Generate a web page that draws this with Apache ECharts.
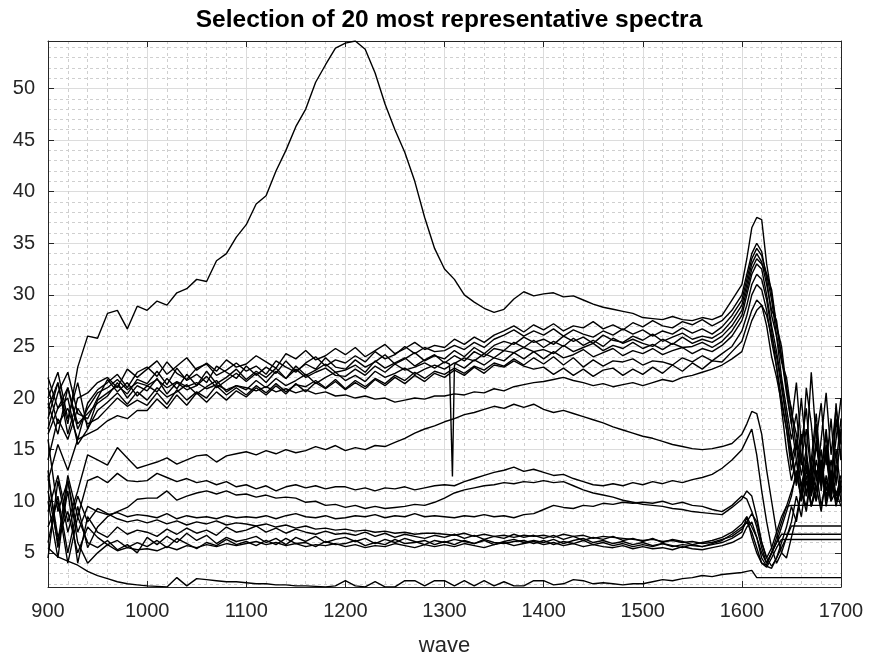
<!DOCTYPE html>
<html><head><meta charset="utf-8">
<script src="https://cdn.jsdelivr.net/npm/echarts@6/dist/echarts.min.js"></script>
<style>html,body{margin:0;padding:0;background:#fff}#c{width:869px;height:662px}</style>
</head><body><div id="c"></div>
<script>
const chartTitle = 'Selection of 20 most representative spectra';
const xName = 'wave';
const waves = [900,910,920,930,940,950,960,970,980,990,
1000,1010,1020,1030,1040,1050,1060,1070,1080,1090,
1100,1110,1120,1130,1140,1150,1160,1170,1180,1190,
1200,1210,1220,1230,1240,1250,1260,1270,1280,1290,
1300,1310,1320,1330,1340,1350,1360,1370,1380,1390,
1400,1410,1420,1430,1440,1450,1460,1470,1480,1490,
1500,1510,1520,1530,1540,1550,1560,1570,1580,1590,
1600,1605,1610,1615,1620,1625,1630,1635,1640,1645,1650,1655,1660,1665,1670,1675,1680,1685,1690,1695,1700];
const yMajorTicks = [5,10,15,20,25,30,35,40,45,50];
const yMinorTicks = [2,3,4,6,7,8,9,11,12,13,14,16,17,18,19,21,22,23,24,26,27,28,29,31,32,33,34,36,37,38,39,41,42,43,44,46,47,48,49,51,52,53,54];

const s01 = [19.0,21.5,17.5,23.0,26.0,25.8,28.2,28.5,26.7,28.9,
28.5,29.4,29.0,30.2,30.6,31.5,31.3,33.3,34.0,35.6,
36.8,38.8,39.6,42.0,44.0,46.3,48.0,50.6,52.3,53.9,
54.4,54.6,53.8,51.5,48.5,46.0,43.8,41.0,37.5,34.5,
32.5,31.5,30.0,29.3,28.7,28.3,28.6,29.6,30.3,29.9,
30.1,30.2,29.8,29.9,29.5,29.1,28.8,28.6,28.4,28.2,
27.8,27.7,27.6,27.9,27.6,27.5,27.8,27.6,28.0,29.5,
31.0,33.5,36.5,37.5,37.3,33.0,30.0,27.0,24.0,21.0,17.5,14.0,11.5,14.0,10.5,13.0,9.5,12.0,10.0,15.0,11.0];
const s02 = [18.0,21.5,16.5,20.0,20.5,21.5,22.0,21.0,22.8,22.0,
22.8,23.6,22.3,23.1,23.9,22.7,23.4,22.6,23.7,23.0,
23.3,24.1,23.5,22.9,24.3,23.8,24.6,23.7,24.1,24.8,
24.2,24.9,24.0,24.6,25.2,24.3,24.8,25.4,24.7,25.1,
24.9,25.7,25.2,25.9,25.4,26.1,26.5,27.0,26.4,27.1,
26.6,27.2,26.5,27.0,26.8,27.4,26.7,27.1,26.6,27.3,
26.9,27.5,27.0,26.8,27.4,27.1,27.6,27.0,27.5,28.5,
30.0,32.0,34.0,35.0,34.2,31.5,28.0,26.0,22.0,19.0,16.0,18.5,14.0,17.0,12.5,15.5,13.0,17.0,12.0,16.0,20.0];
const s03 = [21.0,17.5,19.0,16.0,19.5,20.8,21.5,22.3,21.0,22.5,
23.0,22.1,23.5,22.4,21.8,22.9,23.3,22.2,22.7,23.4,
22.6,23.1,22.3,23.6,23.0,22.5,23.4,24.0,23.1,23.7,
23.4,24.1,23.5,24.5,23.8,24.2,25.0,24.3,24.9,24.5,
24.6,25.1,24.7,25.4,24.9,25.7,26.1,26.6,26.0,26.5,
26.1,26.7,26.0,26.6,26.2,25.9,26.5,26.1,26.7,26.2,
26.6,26.0,26.5,26.2,26.8,26.3,26.7,26.2,26.9,28.0,
29.5,31.5,33.5,34.5,33.8,32.0,30.5,27.0,25.0,21.0,19.0,15.0,20.0,14.5,22.5,16.0,19.5,13.5,18.0,11.5,17.0];
const s04 = [20.0,22.5,18.0,21.5,17.0,19.8,20.5,21.2,20.4,21.8,
21.4,22.6,21.3,22.9,21.7,22.3,21.5,23.1,22.5,21.9,
23.1,22.2,23.0,22.4,23.6,22.6,23.3,22.8,23.9,23.0,
22.8,23.7,23.0,23.5,24.2,23.3,23.8,24.4,23.6,24.1,
23.8,24.6,24.0,24.9,24.3,25.1,25.5,25.2,25.9,25.4,
25.7,25.2,26.0,25.5,25.9,25.3,26.1,25.6,25.4,26.0,
25.6,26.2,25.5,25.9,26.3,25.7,26.0,25.8,26.4,27.5,
29.0,31.0,33.0,34.0,33.2,31.0,28.5,27.5,24.0,20.5,17.5,21.5,15.5,19.0,13.0,17.5,11.0,15.0,10.5,13.5,18.0];
const s05 = [17.0,20.5,22.5,18.5,18.0,20.0,21.8,20.6,21.5,20.2,
21.2,20.6,21.9,20.9,22.3,21.2,22.6,21.4,22.0,22.8,
21.8,22.6,22.0,22.9,21.9,23.1,22.2,22.7,23.3,22.5,
22.7,23.2,22.5,23.6,22.9,23.4,23.9,23.1,23.7,24.2,
23.4,24.1,23.6,24.5,24.0,24.8,24.6,25.4,24.9,25.6,
24.9,25.5,25.0,25.8,25.1,25.6,25.0,25.8,25.3,25.7,
25.3,25.0,25.7,25.2,25.9,25.3,25.7,25.4,26.0,27.0,
28.5,30.5,32.5,33.5,33.0,32.0,29.5,26.0,23.5,22.0,18.5,16.5,13.5,21.0,17.5,12.0,16.0,20.5,14.5,19.0,15.5];
const s06 = [19.5,16.5,21.0,17.5,18.5,19.5,20.2,21.5,20.0,21.2,
20.7,21.9,20.4,21.5,20.8,21.2,22.1,21.0,21.7,22.4,
21.6,22.4,21.5,22.6,21.9,22.8,22.0,22.5,22.9,22.2,
22.1,22.8,22.2,23.1,22.5,23.3,22.7,23.0,23.4,22.9,
23.5,23.1,23.9,23.6,24.3,23.9,24.6,24.4,24.9,24.5,
24.7,24.3,25.1,24.5,24.9,25.3,24.6,25.1,24.8,25.4,
24.8,25.2,24.7,25.3,24.9,25.0,25.4,24.9,25.5,26.5,
28.0,30.0,32.0,33.0,32.5,30.0,27.0,24.5,21.5,18.0,14.5,11.5,16.5,10.5,14.0,18.5,12.5,16.5,11.0,19.5,14.0];
const s07 = [16.5,19.0,20.0,15.5,17.0,18.8,19.6,20.5,19.4,20.6,
19.8,21.0,20.1,20.6,21.3,20.4,21.1,21.7,20.6,21.2,
20.8,21.7,21.0,21.9,21.2,21.7,22.3,21.4,22.0,22.5,
21.7,22.2,21.6,22.6,22.0,22.4,22.9,22.3,22.8,23.2,
22.8,23.4,22.9,23.7,23.2,23.9,23.6,24.4,23.8,24.5,
23.8,24.5,23.9,24.2,24.7,24.0,24.4,24.8,24.1,24.6,
24.3,24.8,24.2,24.6,24.9,24.3,24.8,24.5,25.1,26.0,
27.5,29.0,31.0,32.0,31.5,29.5,26.5,23.0,20.0,17.0,13.0,15.5,11.0,13.5,9.5,12.0,15.0,10.0,13.0,10.0,12.0];
const s08 = [14.0,18.0,16.0,19.0,17.5,18.0,19.0,20.0,19.2,19.8,
19.3,20.5,19.4,20.8,19.8,20.6,20.0,21.2,20.3,21.0,
20.3,21.2,20.5,21.4,20.6,21.3,21.1,21.7,21.0,21.8,
20.9,21.7,21.1,21.9,21.4,22.2,21.7,22.5,21.9,22.6,
22.3,22.9,22.4,23.1,22.7,23.4,23.1,23.8,23.2,23.9,
23.3,24.0,23.2,23.9,23.0,23.7,23.1,23.6,23.5,23.8,
23.2,23.6,23.5,23.2,23.9,23.5,24.1,23.6,24.3,25.0,
26.5,28.0,30.0,31.0,30.5,28.5,25.5,23.0,19.0,15.0,12.0,14.0,10.0,12.5,9.5,11.5,9.0,12.5,10.0,11.0,9.5];
const s09 = [12.0,15.5,13.0,16.0,16.5,17.0,17.8,18.3,18.0,18.8,
18.8,19.9,19.0,20.3,19.3,20.5,19.6,20.6,19.8,20.7,
20.1,21.0,20.3,21.2,20.4,21.4,20.6,21.5,20.9,21.6,
20.8,21.5,20.9,21.8,21.2,22.0,21.4,22.2,21.6,22.4,
22.0,22.7,22.2,23.0,22.4,23.2,23.0,23.6,23.1,22.8,
23.0,22.3,22.9,22.2,22.8,22.1,22.7,22.9,22.2,22.8,
22.3,23.0,22.4,23.2,22.6,23.4,22.8,23.6,23.5,24.5,
25.5,27.0,28.5,29.5,29.0,28.0,26.0,24.0,21.0,18.0,15.0,12.0,14.5,10.5,13.0,11.0,14.0,10.5,12.5,10.0,11.5];
const s10 = [22.0,19.0,21.0,17.0,19.0,20.5,21.0,21.8,20.8,21.5,
21.2,21.8,21.0,21.6,21.1,21.5,20.9,21.3,20.8,21.2,
21.0,20.7,21.1,20.6,20.9,20.5,20.8,20.4,20.6,20.2,
20.3,20.0,20.2,19.9,20.0,19.6,19.8,20.0,19.9,20.2,
20.2,20.4,20.3,20.6,20.5,20.9,20.7,21.1,21.3,21.5,
21.6,21.8,22.0,21.7,21.5,21.2,21.4,21.1,21.3,21.5,
21.2,21.5,21.8,21.6,22.0,22.2,22.5,22.8,23.2,23.8,
24.5,26.0,27.5,28.5,29.0,27.0,24.0,22.0,19.5,17.0,14.0,16.0,12.5,15.0,10.5,14.0,11.5,15.5,12.0,10.5,12.5];
const s11 = [9.0,12.5,8.0,11.0,14.5,14.0,13.5,15.2,14.2,13.2,
13.5,13.8,14.2,13.6,14.0,14.4,14.5,13.8,14.4,14.6,
14.8,14.5,14.9,14.6,15.0,14.7,14.9,15.3,15.0,15.4,
14.9,15.2,15.0,15.4,15.3,15.7,16.1,16.6,17.0,17.3,
17.7,18.0,18.4,18.6,18.9,19.2,19.0,19.4,19.1,19.4,
18.9,18.6,18.8,18.5,18.2,17.9,17.6,17.2,16.9,16.6,
16.3,16.1,15.8,15.5,15.3,15.1,15.0,15.1,15.3,15.6,
16.5,17.5,18.7,18.5,16.5,13.0,10.0,7.0,5.0,4.5,6.5,8.5,11.0,9.5,12.5,10.0,13.5,11.0,14.0,10.5,12.0];
const s12 = [11.0,6.0,12.5,8.5,12.0,12.4,11.8,12.7,12.0,11.9,
12.0,12.7,12.3,11.9,12.2,11.8,12.0,11.6,11.9,11.4,
11.6,11.2,11.5,11.0,11.4,11.6,11.3,11.5,11.2,11.4,
11.4,11.1,11.3,11.0,11.3,11.2,11.4,11.1,11.3,11.5,
11.6,11.5,11.9,12.2,12.5,12.8,13.0,13.3,12.9,13.1,
12.8,12.5,12.6,12.2,11.9,11.6,11.5,11.7,11.5,11.8,
11.6,11.9,11.7,12.0,11.8,12.1,12.3,12.6,13.2,14.0,
15.0,16.0,17.0,14.5,11.0,8.0,5.5,4.0,5.0,6.5,8.0,10.5,8.5,12.0,9.5,11.0,14.0,10.0,12.5,9.5,11.5];
const s13 = [6.0,10.5,5.0,9.5,5.5,7.5,8.5,9.0,9.4,10.2,
10.3,10.3,11.0,10.1,10.5,10.8,11.0,10.7,11.0,10.6,
10.7,10.4,10.6,10.3,10.4,10.3,9.9,10.0,9.6,9.7,
9.4,9.6,9.3,9.5,9.3,9.4,9.5,9.7,9.6,9.9,
10.3,10.8,11.1,11.3,11.5,11.6,11.8,11.7,11.9,11.8,
12.0,11.8,11.9,11.5,11.1,10.8,10.6,10.4,10.1,9.9,
9.7,9.6,9.5,9.3,9.2,9.0,8.9,8.8,8.7,9.4,
10.2,11.0,10.5,8.5,6.0,4.5,5.5,7.0,8.5,9.5,9.6,9.6,9.6,9.6,9.6,9.6,9.6,9.6,9.6,9.6,9.6];
const s14 = [10.0,4.5,12.0,7.0,9.5,9.0,8.7,8.9,8.5,8.7,
8.6,8.4,8.8,8.3,8.6,8.4,8.5,8.3,8.6,8.4,
8.5,8.4,8.6,8.3,8.6,8.8,8.5,8.4,8.6,8.3,
8.4,8.6,8.5,8.7,8.4,8.6,8.5,8.8,8.5,8.6,
8.5,8.4,8.6,8.5,8.7,8.5,8.6,8.4,8.7,8.8,
9.2,9.6,9.4,9.3,9.6,9.5,9.8,9.7,9.9,9.8,
9.9,9.8,10.0,9.7,9.9,9.6,9.5,9.2,9.0,9.6,
10.5,10.2,9.0,7.5,5.5,4.0,5.0,6.0,7.5,9.0,10.5,13.0,10.0,14.5,11.5,16.0,12.0,15.0,11.0,18.0,14.0];
const s15 = [4.5,12.0,7.0,10.5,8.0,9.3,8.8,8.3,8.0,8.2,
7.9,8.2,7.8,8.1,7.7,8.0,7.8,8.1,7.7,7.9,
7.8,7.6,7.8,7.5,7.7,7.4,7.6,7.3,7.4,7.2,
7.3,7.1,7.2,7.0,7.1,6.9,7.0,6.8,6.9,6.9,
6.8,6.7,6.9,6.6,6.8,6.6,6.7,6.5,6.7,6.6,
6.7,6.5,6.8,6.6,6.7,6.4,6.6,6.5,6.4,6.3,
6.2,6.3,6.1,6.2,6.0,6.1,5.9,6.0,6.3,6.6,
7.3,8.0,8.8,8.0,6.0,4.5,3.7,4.5,5.5,6.5,7.6,7.6,7.6,7.6,7.6,7.6,7.6,7.6,7.6,7.6,7.6];
const s16 = [13.0,5.5,11.0,4.0,8.5,7.0,6.5,7.5,6.8,7.2,
7.0,6.6,7.3,6.8,7.4,6.9,7.2,6.7,7.5,7.0,
7.2,7.6,7.0,7.4,6.9,7.3,7.0,6.8,7.1,6.8,
6.9,6.7,7.0,6.6,6.9,6.5,6.8,6.6,6.4,6.7,
6.5,6.8,6.4,6.7,6.3,6.6,6.4,6.8,6.5,6.7,
6.4,6.7,6.3,6.6,6.2,6.5,6.3,6.6,6.2,6.4,
6.1,6.4,6.0,6.3,6.1,5.8,6.0,6.2,6.5,7.0,
7.8,8.5,7.5,6.5,5.0,4.0,5.0,6.0,6.8,6.8,6.8,6.8,6.8,6.8,6.8,6.8,6.8,6.8,6.8,6.8,6.8];
const s17 = [7.5,10.0,4.0,8.5,6.0,5.5,6.2,5.3,5.8,5.0,
6.5,5.8,6.6,6.0,6.9,6.2,6.7,5.9,6.5,6.1,
6.3,6.6,6.0,6.4,5.8,6.5,6.1,6.6,6.0,6.3,
6.5,6.1,6.4,5.9,6.3,6.0,6.4,6.1,5.8,6.2,
6.0,6.3,6.1,5.9,6.2,5.8,6.1,6.3,6.0,6.2,
6.0,6.3,5.9,6.2,6.4,6.0,6.2,5.9,6.1,5.8,
6.0,5.7,5.9,5.6,5.8,5.7,5.6,5.9,6.2,6.8,
7.5,8.0,7.0,5.5,4.0,3.8,5.0,6.5,8.0,9.5,11.0,12.5,10.5,13.0,11.0,15.5,12.0,14.5,10.5,13.5,10.0];
const s18 = [12.5,6.5,9.0,5.0,7.5,6.5,5.8,6.2,5.5,6.0,
5.6,6.2,5.5,6.4,5.9,5.4,6.0,5.7,6.3,5.8,
6.1,5.7,6.2,5.8,6.4,5.9,6.0,5.6,6.1,5.8,
5.9,6.2,5.7,6.0,5.8,6.3,5.9,6.0,6.2,5.8,
6.1,5.8,6.2,5.9,6.3,6.0,5.9,6.1,6.2,5.9,
6.2,5.8,6.1,5.9,6.2,5.8,6.0,5.7,5.9,5.6,
5.8,5.6,5.9,5.7,5.5,5.8,5.6,5.8,6.0,6.4,
7.0,8.5,6.5,5.0,4.0,3.6,4.5,5.5,6.3,6.3,6.3,6.3,6.3,6.3,6.3,6.3,6.3,6.3,6.3,6.3,6.3];
const s19 = [16.0,9.0,12.0,6.0,4.0,5.0,5.8,5.2,5.5,5.3,
5.4,5.2,5.6,5.3,5.7,5.5,5.8,5.6,5.9,5.7,
5.9,6.1,5.8,6.0,5.7,5.9,5.6,5.8,5.7,5.9,
5.6,5.8,5.5,5.7,5.6,5.9,5.7,5.5,5.8,5.6,
5.8,5.6,5.9,5.7,5.5,5.8,6.0,5.7,5.9,6.1,
5.8,6.0,5.7,5.9,5.6,5.8,5.6,5.5,5.7,5.4,
5.6,5.4,5.5,5.3,5.6,5.4,5.3,5.5,5.7,6.0,
6.5,7.5,8.0,6.5,4.5,3.7,3.5,4.5,6.0,7.5,9.5,8.0,11.0,9.0,12.5,10.0,13.5,9.5,12.0,10.0,11.0];
const s20 = [5.5,4.6,4.2,3.8,3.2,2.8,2.5,2.2,2.0,1.9,
1.8,1.75,1.7,2.6,1.8,2.5,2.4,2.3,2.2,2.2,
2.1,2.0,2.0,1.9,1.9,1.8,1.8,1.75,1.7,1.8,
2.3,1.8,1.7,2.2,1.7,1.7,2.3,2.3,1.8,2.3,
2.3,1.8,2.3,1.8,2.3,1.8,2.2,1.8,1.8,2.3,
2.3,1.9,2.0,2.4,2.3,2.0,2.1,2.0,1.9,2.0,
2.0,2.2,2.4,2.3,2.5,2.6,2.8,2.7,2.9,3.0,
3.1,3.2,3.3,2.6,2.6,2.6,2.6,2.6,2.6,2.6,2.6,2.6,2.6,2.6,2.6,2.6,2.6,2.6,2.6,2.6,2.6];

// narrow dip in one spectrum near 1308
const dipSpectrum = 6; // s06
const dipWaves = [1305, 1308, 1311];
const dipValues = [23.3, 12.4, 23.4];

const spectra = [s01,s02,s03,s04,s05,s06,s07,s08,s09,s10,s11,s12,s13,s14,s15,s16,s17,s18,s19,s20];

const FONT = '"Liberation Sans", Arial, sans-serif';
const AXC = '#262626';

const series = spectra.map((vals, k) => {
  let data = waves.map((w, i) => [w, vals[i]]);
  if (k === dipSpectrum - 1) {
    data = data.concat(dipWaves.map((w, i) => [w, dipValues[i]])).sort((a, b) => a[0] - b[0]);
  }
  return {
    type: 'line', data: data, xAxisIndex: 0, yAxisIndex: 0,
    showSymbol: false, symbol: 'none', silent: true, clip: true,
    lineStyle: { color: '#000', width: 1.4 }
  };
});

const yMin = 1.69, yMax = 54.6;
const chart = echarts.init(document.getElementById('c'), null, { renderer: 'canvas' });
chart.setOption({
  animation: false,
  backgroundColor: '#fff',
  title: {
    text: chartTitle, left: 444, top: 3, textAlign: 'center',
    textStyle: { fontFamily: FONT, fontSize: 24.5, fontWeight: 'bold', color: '#000' }
  },
  grid: { left: 48, right: 28, top: 41, bottom: 72, containLabel: false },
  xAxis: [
    {
      type: 'value', min: 900, max: 1700, interval: 100, position: 'bottom',
      name: xName, nameLocation: 'middle', nameGap: 48,
      nameTextStyle: { fontFamily: FONT, fontSize: 22, color: AXC },
      axisLine: { show: true, onZero: false, lineStyle: { color: AXC, width: 1 } },
      axisTick: { show: true, inside: true, length: 6, lineStyle: { color: AXC } },
      axisLabel: { fontFamily: FONT, fontSize: 20, color: AXC, margin: 14, formatter: v => String(v) },
      splitLine: { show: true, lineStyle: { color: '#dcdcdc', width: 1 } },
      minorTick: { show: false, splitNumber: 5 },
      minorSplitLine: { show: true, lineStyle: { color: '#cfcfcf', width: 1, type: [3, 3] } }
    },
    {
      type: 'value', min: 900, max: 1700, interval: 100, position: 'top',
      axisLine: { show: true, onZero: false, lineStyle: { color: AXC, width: 1 } },
      axisTick: { show: true, inside: true, length: 6, lineStyle: { color: AXC } },
      axisLabel: { show: false }, splitLine: { show: false }
    }
  ],
  yAxis: [
    {
      type: 'value', min: yMin, max: yMax, position: 'left',
      axisLine: { show: true, onZero: false, lineStyle: { color: AXC, width: 1 } },
      axisTick: { show: true, inside: true, length: 6, lineStyle: { color: AXC }, customValues: yMajorTicks },
      axisLabel: { fontFamily: FONT, fontSize: 20, color: AXC, margin: 13, customValues: yMajorTicks },
      splitLine: { show: true, lineStyle: { color: '#dcdcdc', width: 1 } }
    },
    {
      type: 'value', min: yMin, max: yMax, position: 'right',
      axisLine: { show: true, onZero: false, lineStyle: { color: AXC, width: 1 } },
      axisTick: { show: true, inside: true, length: 6, lineStyle: { color: AXC }, customValues: yMajorTicks },
      axisLabel: { show: false, customValues: yMajorTicks }, splitLine: { show: false }
    },
    {
      type: 'value', min: yMin, max: yMax, position: 'left', offset: 0,
      axisLine: { show: false },
      axisTick: { show: false, customValues: yMinorTicks },
      axisLabel: { show: false, customValues: yMinorTicks },
      splitLine: { show: true, lineStyle: { color: '#cfcfcf', width: 1, type: [3, 3] } }
    }
  ],
  series: series
});
</script>
</body></html>
